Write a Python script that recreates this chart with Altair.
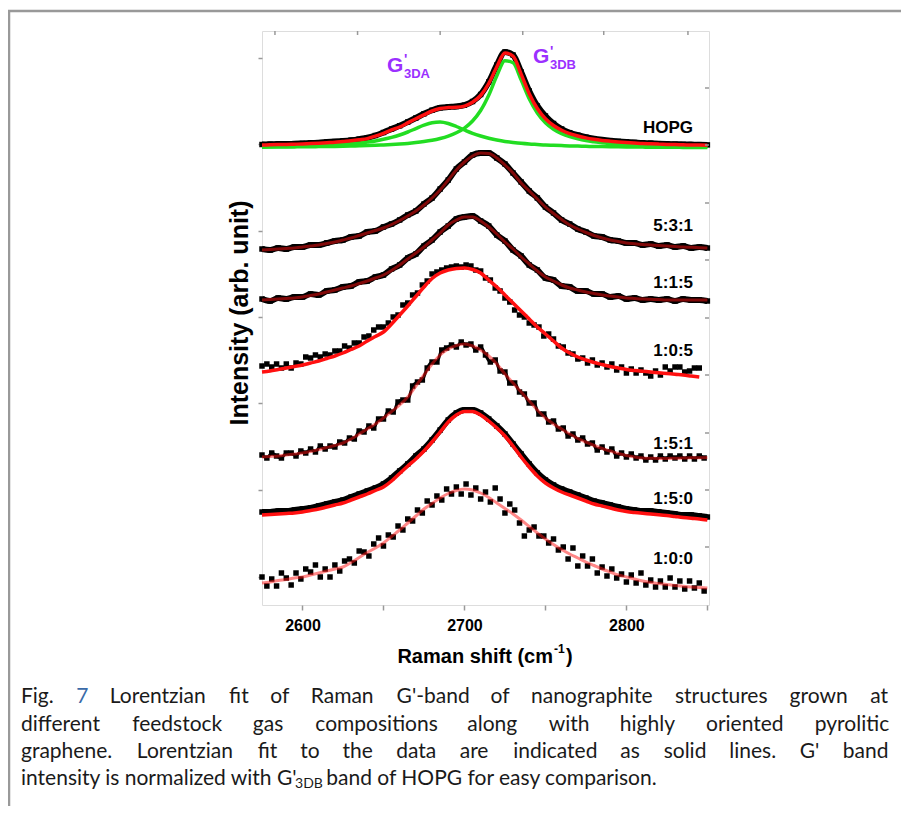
import altair as alt
import pandas as pd

# ---------------- data ----------------
X_FIT = list(range(2575, 2851, 5))        # 56 points, fits
X_FIT_105 = list(range(2575, 2846, 5))    # 55 points
X_DATA_N = list(range(2575, 2849, 3))     # 92 points, noisy data
X_DATA_105 = list(range(2575, 2846, 3))   # 91 points

LABELS = ["HOPG", "5:3:1", "1:1:5", "1:0:5", "1:5:1", "1:5:0", "1:0:0"]

# Lorentzian fits (stacked intensities, arb. unit)
fit_hopg = [460.0,460.2,460.4,460.6,460.8,461.1,461.4,461.8,462.3,462.8,463.5,464.2,465.2,466.4,
            468.8,471.7,475.1,478.0,482.1,486.3,490.2,494.0,496.5,497.4,497.7,498.9,502.7,509.5,521.5,
            538.2,551.9,548.9,530.9,511.3,496.5,486.3,479.5,474.8,471.4,469.0,467.1,465.7,464.6,463.8,
            463.1,462.5,462.0,461.5,461.2,460.9,460.6,460.4,460.2,460.0,459.9,459.7]
fit_3da = [458.2,458.3,458.4,458.6,458.8,459.0,459.2,459.5,459.8,460.2,460.7,461.3,462.0,463.0,464.1,
           465.7,467.6,470.0,473.0,476.4,479.8,482.3,483.0,481.5,478.5,475.0,471.7,469.0,466.7,465.0,
           463.6,462.6,461.7,461.0,460.5,460.0,459.7,459.4,459.1,458.9,458.7,458.5,458.4,458.3,458.2,
           458.1,458.0,457.9,457.8,457.8,457.7,457.7,457.6,457.6,457.6,457.5]
fit_3db = [457.8,457.9,457.9,458.0,458.1,458.2,458.2,458.4,458.5,458.6,458.8,459.0,459.2,459.4,459.7,
           460.1,460.5,461.0,461.6,462.4,463.4,464.7,466.5,468.9,472.2,476.9,484.0,494.5,509.8,529.2,
           544.3,542.3,525.2,506.3,492.0,482.3,475.8,471.4,468.3,466.1,464.4,463.2,462.2,461.5,460.9,
           460.4,460.0,459.6,459.4,459.1,458.9,458.7,458.6,458.4,458.3,458.2]
fit_531 = [355,355.5,356,356.5,357,358,359,360,361.5,363,365,367,369.5,372,374.5,377,380.5,384.5,389,394,
           400,407,415,425,435,443,449,452,451.5,447,440,432,422,414,406,398,391.5,385.5,380,376,
           372.5,369.5,367,365,363.5,362,361.2,360.5,360,359.5,359,358.5,358,357.7,357.3,357]
fit_115 = [305,305.5,306,306.5,307,308,309.5,311,313,315,317,319,321.5,324,327,330,334.5,340,346,352,
           358,365,372,380,385,388,388,384,378,371,363,356,348,341,334,328,324,320,317,315,
           313,311.5,310,309,308,307,306.5,306,305.7,305.4,305,305,305,305,305,305]
fit_105 = [233,234,235.5,237,238.5,240,242,244,246.5,249,252,255.5,259,264,268.5,273,281,290,299,308.5,
           318,326.5,332,335,336.5,337,335.5,332,325,318,310,302,294,286,278,271,264,257,252,248,
           245,242.5,240.5,238.5,237,235.5,234.5,233.7,233,232.2,231.5,230.7,230,229,228]
fit_151 = [148,148.5,149,150,151,152,153.5,155.5,157.5,159.5,162,166,171,176,181,187,193.5,200,208,219,
           230,241,250,256,259.5,261,259,255,249,241,231,222,213,204,195,187,181,176,171,166.5,
           163,159.5,156.5,154,151.5,149.5,148,147,146.7,146.5,146.5,146.7,147,147.2,147.2,147.5]
fit_150 = [90,90.5,91,91.5,92,93,94.5,96,98,100,102,105,108,111,114.5,118,124,131.5,139,146,
           154,163,173,183,190,193.5,193.5,190,184,177,169,159,148,138,129,122,117,113,110,107,
           104,101,99,97,95,93.5,92.5,91.7,91,90.3,89.5,88.5,87.5,86.7,86,85]
fit_100 = [22,23,24.5,25.5,27,28,30,32,34,36,38,42.5,47.5,52.5,57,62,68.5,75,82,89,
           96,101.5,107,111.5,114.5,116,115,112,107.5,102,96.5,91,85,78.5,72,66,60.5,55.5,51,47,
           43,39.5,36,33,30,28,26,24,22.5,21.5,20.5,19.5,18.7,18,17.5,17]

# Measured spectra (black squares)
dat_hopg = [460.5,460.8,461.0,460.9,461.3,461.6,462.0,462.3,462.9,463.4,464.0,464.8,465.9,467.2,
            469.5,472.5,476.0,479.2,483.0,487.0,491.2,494.8,497.2,498.0,498.5,499.8,503.5,510.5,523.0,
            540.0,553.0,550.0,533.0,514.0,499.0,489.0,481.5,476.0,472.3,469.8,467.8,466.3,465.2,464.3,
            463.6,463.0,462.5,462.0,461.7,461.3,461.0,460.8,460.6,460.4,460.3,460.1]
dat_531 = [356,355,357,356,358,358,360,360,362,364,365,368,369,373,374,378,381,385,390,394,
           401,407,416,425,436,443,450,452,452,447,441,432,423,414,407,398,392,385,381,376,
           373,369,368,365,364,362,362,360,361,359,360,358,359,357,358,357]
dat_115 = [306,304,307,306,308,308,311,310,314,315,318,319,323,324,328,330,336,340,347,351,
           359,365,373,379,386,388,389,384,379,370,364,355,349,340,335,327,325,319,318,314,
           314,311,311,308,309,306,307,305,306,305,306,304,306,305,305,304]
dat_150 = [93,93,94,94,95,96,97,99,101,103,105,108,111,114,117,121,127,134,141,149,
           156,165,175,185,192,195,195,192,186,179,171,161,151,141,132,125,120,116,113,110,
           107,104,102,100,98,96,95,94,94,93,92,91,90,90,89,88]
dat_105 = [239,241,238,241,237,241,237,242,241,248,247,250,248,251,250,254,254,259,257,262,
           262,268,269,275,278,278,282,288,290,300,302,310,312,320,324,331,333,335,337,338,
           339,338,340,339,335,334,327,325,317,314,307,303,295,290,288,282,280,278,269,271,
           266,259,258,252,251,246,247,242,245,240,242,238,241,235,238,232,236,232,235,232,
           229,234,230,238,234,238,238,233,234,237,237]
dat_151 = [150,147,152,149,147,152,152,149,154,152,156,153,159,156,159,158,163,162,167,166,
           174,173,179,177,186,186,194,193,203,205,205,219,223,225,237,243,243,255,257,260,
           258,263,260,261,255,258,250,243,245,234,233,222,222,213,211,202,202,191,191,183,
           184,176,177,169,171,165,167,161,162,155,158,153,156,149,152,148,151,147,149,145,
           148,145,149,146,149,147,149,146,149,146,149,147]
dat_100 = [28,19,26,19,32,27,20,32,26,36,33,40,28,36,28,40,34,44,46,42,
           54,53,49,61,67,59,70,68,79,75,86,84,95,92,104,100,109,105,116,111,
           118,111,121,110,117,106,113,103,117,106,92,101,95,82,69,75,78,69,69,62,
           66,55,58,46,57,39,49,39,46,32,38,29,36,27,31,23,30,22,32,20,
           25,18,24,18,27,18,24,16,24,17,22,14]

LEFT_TICKS = [28.5, 115, 201.5, 288, 374.5, 461, 547.5]
RIGHT_TICKS = [58, 115, 172, 230, 287, 345, 402, 460, 517]
TOP_TICKS = [2583, 2634, 2685, 2736, 2786, 2838]
X_TICKS = [2600, 2650, 2700, 2750, 2800, 2850]

CAPTION_LINES = [
    "Fig. 7 Lorentzian fit of Raman G'-band of nanographite structures grown at",
    "different feedstock gas compositions along with highly oriented pyrolitic",
    "graphene. Lorentzian fit to the data are indicated as solid lines. G' band",
]
CAPTION_LAST = ["intensity is normalized with G'", "3DB", "band of HOPG for easy comparison."]


def frame(name, xs, ys):
    return pd.DataFrame({"x": xs[:len(ys)], "y": ys[:len(xs)], "series": name})


red_solid = pd.concat([frame("HOPG", X_FIT, fit_hopg), frame("1:0:5", X_FIT_105, fit_105),
                       frame("1:5:0", X_FIT, fit_150)])
red_soft = pd.concat([frame("5:3:1", X_FIT, fit_531), frame("1:1:5", X_FIT, fit_115),
                      frame("1:5:1", X_FIT, fit_151), frame("1:0:0", X_FIT, fit_100)])
green = pd.concat([frame("3DA", X_FIT, fit_3da), frame("3DB", X_FIT, fit_3db)])
band = pd.concat([frame("HOPG", X_FIT, dat_hopg), frame("5:3:1", X_FIT, dat_531),
                  frame("1:1:5", X_FIT, dat_115), frame("1:5:0", X_FIT, dat_150)])
band_151 = frame("1:5:1", X_DATA_N, dat_151)
points = pd.concat([band, frame("1:0:5", X_DATA_105, dat_105), band_151,
                    frame("1:0:0", X_DATA_N, dat_100)])

W, H = 447, 574
xsc = alt.Scale(domain=[2575, 2851], nice=False, zero=False)
ysc = alt.Scale(domain=[0, 574], nice=False, zero=False)
X = alt.X("x:Q", scale=xsc, title=None,
          axis=alt.Axis(values=X_TICKS, labelExpr="datum.value % 100 == 0 ? datum.label : ''",
                        format="d", grid=False, domain=False, tickColor="#999999", tickWidth=1.5,
                        tickSize=5, labelFontSize=16, labelFontWeight="bold", labelColor="black",
                        labelFont="Liberation Sans", labelPadding=7))
Y = alt.Y("y:Q", scale=ysc, title=None,
          axis=alt.Axis(values=LEFT_TICKS, labels=False, grid=False, domain=False,
                        tickColor="#999999", tickWidth=1.5, tickSize=4))

band_layer = alt.Chart(band).mark_line(color="black", strokeWidth=6, interpolate="monotone").encode(
    x=X, y=Y, detail="series:N")
band151_layer = alt.Chart(band_151).mark_line(color="black", strokeWidth=3, interpolate="monotone").encode(
    x="x:Q", y="y:Q")
pt_layer = alt.Chart(points).mark_square(size=30, color="black", opacity=1).encode(
    x="x:Q", y="y:Q")
green_layer = alt.Chart(green).mark_line(color="#22dd22", strokeWidth=3.5, interpolate="monotone").encode(
    x="x:Q", y="y:Q", detail="series:N")
red_soft_layer = alt.Chart(red_soft).mark_line(color="#ff1010", strokeWidth=3, opacity=0.5,
                                               interpolate="monotone").encode(
    x="x:Q", y="y:Q", detail="series:N")
red_layer = alt.Chart(red_solid).mark_line(color="#ff1010", strokeWidth=3.5, interpolate="monotone").encode(
    x="x:Q", y="y:Q", detail="series:N")

top_ticks = alt.Chart(pd.DataFrame({"x": TOP_TICKS})).mark_rule(color="#999999", strokeWidth=1.5).encode(
    x="x:Q", y=alt.value(0), y2=alt.value(4))
right_ticks = alt.Chart(pd.DataFrame({"y": RIGHT_TICKS})).mark_rule(color="#999999", strokeWidth=1.5).encode(
    y="y:Q", x=alt.value(W - 4), x2=alt.value(W))

one = pd.DataFrame({"t": [""]})


def txt(s, x, y, size, color="black", weight="bold", align="left", baseline="alphabetic",
        font="Liberation Sans", angle=None):
    kw = dict(align=align, baseline=baseline, fontSize=size, fontWeight=weight, color=color, font=font)
    if angle is not None:
        kw["angle"] = angle
    return alt.Chart(pd.DataFrame({"t": [s]})).mark_text(**kw).encode(
        x=alt.value(x), y=alt.value(y), text="t:N")


# series labels
LABEL_Y = [96.5, 195, 252, 320, 413, 468, 528]
label_layers = [txt(l, 431, yy, 17, align="right", baseline="middle") for l, yy in zip(LABELS, LABEL_Y)]

PURPLE = "#9b30ff"
peak_labels = [
    txt("G", 125, 41, 21, color=PURPLE), txt("'", 142, 33, 14, color=PURPLE), txt("3DA", 142, 47, 13, color=PURPLE),
    txt("G", 271, 32, 21, color=PURPLE), txt("'", 288, 25, 14, color=PURPLE), txt("3DB", 288, 38, 13, color=PURPLE),
]

axis_titles = [
    txt("Raman shift (cm", 291, 632, 20, align="right"),
    txt("-1", 292, 622, 12),
    txt(")", 304, 632, 20),
    txt("Intensity (arb. unit)", -22, 282, 25, align="center", baseline="middle", angle=270),
]

# ---------------- caption (justified, word by word) ----------------
CAP_FONT = "Lato"
CS = 21
INK = "#1a1a1a"
BLUE = "#3a6aa8"
CHAR_EM = {" ": .19, "i": .23, "l": .23, "j": .23, "t": .33, "f": .32, "r": .36, "'": .2, ".": .22,
           ",": .22, ":": .22, "I": .27, "m": .83, "w": .75, "M": .85, "W": .95, "-": .33,
           "a": .49, "c": .45, "s": .42, "z": .45, "k": .48, "y": .48, "v": .48, "x": .47,
           "F": .55, "L": .5, "R": .6, "G": .7, "H": .74, "O": .77, "P": .57, "B": .62, "D": .72}


def tw(s, size):
    return sum(CHAR_EM.get(c, .53) for c in s) * size * 1.035


LEFT, RIGHT = -241, 626
LINE_Y = [666, 694, 721, 748]
rows = []
for line, yy in zip(CAPTION_LINES, LINE_Y):
    words = line.split()
    widths = [tw(w, CS) for w in words]
    gap = (RIGHT - LEFT - sum(widths)) / (len(words) - 1)
    xx = LEFT
    for i, (w, wd) in enumerate(zip(words, widths)):
        pos = RIGHT - wd if i == len(words) - 1 else xx
        rows.append({"t": w, "px": pos, "py": yy, "col": BLUE if w == "7" else INK, "fs": CS})
        xx += wd + gap
xx = LEFT
seg1, sub, seg2 = CAPTION_LAST
rows.append({"t": seg1, "px": xx, "py": LINE_Y[3], "col": INK, "fs": CS})
xx += tw(seg1, CS) + 3
rows.append({"t": sub, "px": xx, "py": LINE_Y[3] + 5, "col": INK, "fs": 14})
xx += tw(sub, 14) + tw(" ", CS)
rows.append({"t": seg2, "px": xx, "py": LINE_Y[3], "col": INK, "fs": CS})
cap_df = pd.DataFrame(rows)
caption = alt.Chart(cap_df).mark_text(align="left", baseline="middle", font=CAP_FONT).encode(
    x=alt.X("px:Q", scale=None), y=alt.Y("py:Q", scale=None), text="t:N",
    color=alt.Color("col:N", scale=None), size=alt.Size("fs:Q", scale=None))

frame_lines = [
    alt.Chart(one).mark_rule(color="#999999", strokeWidth=2.5).encode(
        x=alt.value(-254), x2=alt.value(640), y=alt.value(-20)),
    alt.Chart(one).mark_rule(color="#999999", strokeWidth=2.5).encode(
        x=alt.value(-253), y=alt.value(-21), y2=alt.value(780)),
]

chart = alt.layer(
    band_layer, band151_layer, pt_layer, green_layer, red_soft_layer, red_layer, top_ticks, right_ticks,
    *label_layers, *peak_labels, *axis_titles, caption, *frame_lines
).properties(
    width=W, height=H,
    autosize=alt.AutoSizeParams(type="none"),
    padding={"left": 254, "top": 23, "right": 192, "bottom": 201},
).configure_view(stroke="#999999", strokeWidth=2).configure(background="white")

chart.save("out.html", embed_options={"renderer": "svg", "actions": False})
